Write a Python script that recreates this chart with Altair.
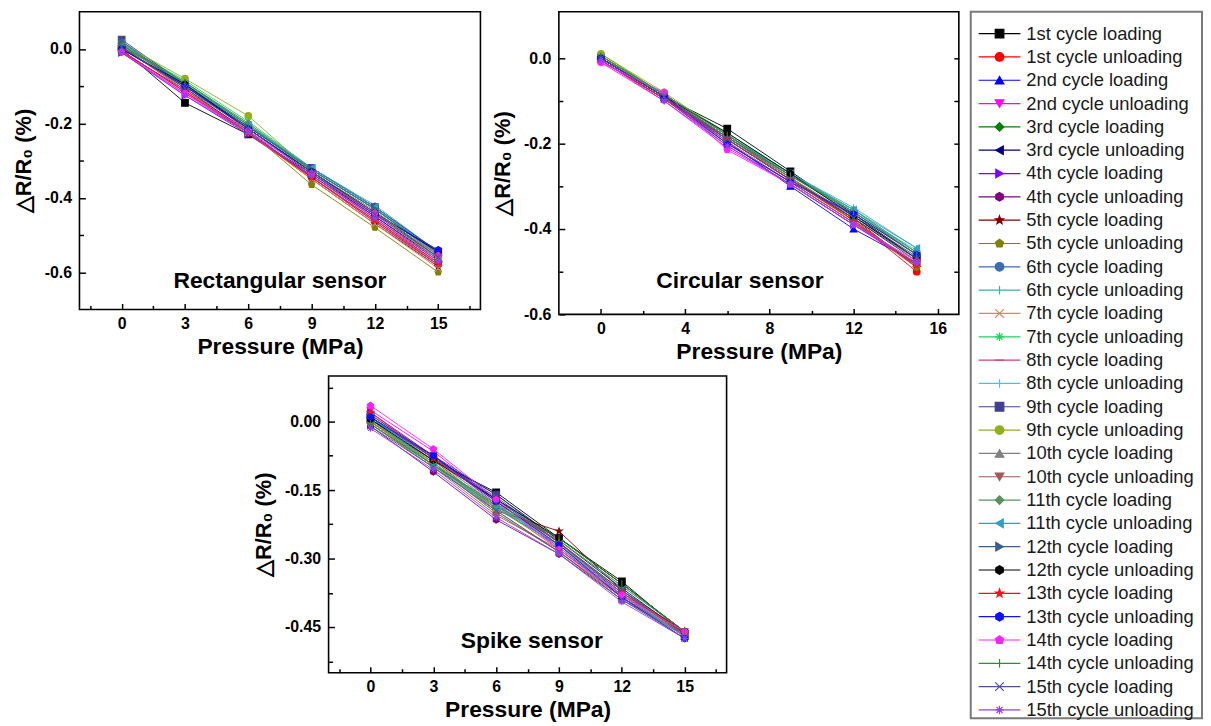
import altair as alt
import pandas as pd

pressure = [0, 3, 6, 9, 12, 15]

series_names = [
    "1st cycle loading", "1st cycle unloading", "2nd cycle loading", "2nd cycle unloading",
    "3rd cycle loading", "3rd cycle unloading", "4th cycle loading", "4th cycle unloading",
    "5th cycle loading", "5th cycle unloading", "6th cycle loading", "6th cycle unloading",
    "7th cycle loading", "7th cycle unloading", "8th cycle loading", "8th cycle unloading",
    "9th cycle loading", "9th cycle unloading", "10th cycle loading", "10th cycle unloading",
    "11th cycle loading", "11th cycle unloading", "12th cycle loading", "12th cycle unloading",
    "13th cycle loading", "13th cycle unloading", "14th cycle loading", "14th cycle unloading",
    "15th cycle loading", "15th cycle unloading",
]

series_colors = [
    "#000000", "#FF0000", "#0000FF", "#FF00FF", "#008000", "#000080", "#8000FF", "#800080",
    "#800000", "#808000", "#3A6EB0", "#3AAFAF", "#C8905A", "#20D060", "#D0407A", "#40C8D8",
    "#404090", "#90B020", "#808080", "#A05A5A", "#5A9060", "#30A0C8", "#3A6090", "#000000",
    "#FF1010", "#1010FF", "#FF20FF", "#309030", "#505090", "#9040F0",
]

HEX = "M0,-1L0.866,-0.5L0.866,0.5L0,1L-0.866,0.5L-0.866,-0.5Z"
STAR = ("M0,-1L0.235,-0.324L0.951,-0.309L0.38,0.124L0.588,0.809L0,0.4"
        "L-0.588,0.809L-0.38,0.124L-0.951,-0.309L-0.235,-0.324Z")
PENT = "M0,-1L0.951,-0.309L0.588,0.809L-0.588,0.809L-0.951,-0.309Z"
VBAR = "M0,-1L0,1"
HBAR = "M-1,0L1,0"
XMARK = "M-1,-1L1,1M-1,1L1,-1"
ASTER = "M-1,0L1,0M0,-1L0,1M-0.7,-0.7L0.7,0.7M-0.7,0.7L0.7,-0.7"

series_shapes = [
    "square", "circle", "triangle-up", "triangle-down", "diamond", "triangle-left",
    "triangle-right", HEX, STAR, PENT, "circle", VBAR, XMARK, ASTER, HBAR, VBAR,
    "square", "circle", "triangle-up", "triangle-down", "diamond", "triangle-left",
    "triangle-right", HEX, STAR, HEX, PENT, VBAR, XMARK, ASTER,
]

# ΔR/R0 (%) at 0, 3, 6, 9, 12, 15 MPa, one row per series
rect_values = [
    [0.000, -0.145, -0.230, -0.335, -0.450, -0.565],
    [-0.005, -0.115, -0.225, -0.340, -0.455, -0.575],
    [0.010, -0.095, -0.210, -0.320, -0.425, -0.545],
    [-0.010, -0.120, -0.225, -0.345, -0.460, -0.580],
    [0.005, -0.090, -0.205, -0.325, -0.430, -0.555],
    [0.000, -0.100, -0.215, -0.330, -0.440, -0.560],
    [-0.010, -0.125, -0.230, -0.340, -0.450, -0.570],
    [-0.008, -0.110, -0.220, -0.345, -0.465, -0.580],
    [0.005, -0.105, -0.225, -0.350, -0.470, -0.585],
    [0.010, -0.095, -0.220, -0.365, -0.480, -0.600],
    [0.015, -0.100, -0.210, -0.325, -0.430, -0.550],
    [0.020, -0.090, -0.200, -0.320, -0.420, -0.545],
    [0.005, -0.110, -0.225, -0.350, -0.470, -0.590],
    [0.010, -0.085, -0.195, -0.320, -0.425, -0.550],
    [-0.005, -0.115, -0.230, -0.345, -0.465, -0.585],
    [0.015, -0.095, -0.205, -0.325, -0.430, -0.555],
    [0.025, -0.095, -0.210, -0.320, -0.425, -0.545],
    [0.015, -0.080, -0.180, -0.330, -0.440, -0.565],
    [0.010, -0.100, -0.215, -0.335, -0.445, -0.565],
    [0.005, -0.110, -0.225, -0.345, -0.460, -0.580],
    [0.010, -0.090, -0.200, -0.325, -0.430, -0.555],
    [0.015, -0.095, -0.205, -0.320, -0.425, -0.550],
    [0.020, -0.100, -0.210, -0.325, -0.430, -0.550],
    [0.000, -0.095, -0.215, -0.330, -0.440, -0.545],
    [-0.005, -0.115, -0.225, -0.345, -0.460, -0.575],
    [0.000, -0.100, -0.215, -0.330, -0.445, -0.540],
    [-0.008, -0.120, -0.220, -0.335, -0.440, -0.555],
    [0.010, -0.090, -0.205, -0.330, -0.435, -0.560],
    [0.005, -0.105, -0.215, -0.335, -0.445, -0.560],
    [-0.010, -0.125, -0.225, -0.340, -0.455, -0.570],
]

circ_values = [
    [0.000, -0.090, -0.165, -0.265, -0.365, -0.470],
    [-0.005, -0.095, -0.185, -0.280, -0.380, -0.500],
    [0.000, -0.090, -0.195, -0.300, -0.400, -0.480],
    [-0.010, -0.100, -0.210, -0.295, -0.390, -0.485],
    [0.005, -0.085, -0.180, -0.275, -0.360, -0.460],
    [0.000, -0.090, -0.190, -0.285, -0.375, -0.475],
    [-0.005, -0.095, -0.205, -0.295, -0.390, -0.480],
    [-0.005, -0.095, -0.200, -0.290, -0.385, -0.485],
    [0.000, -0.090, -0.185, -0.280, -0.375, -0.490],
    [0.010, -0.085, -0.185, -0.285, -0.380, -0.490],
    [0.005, -0.085, -0.180, -0.270, -0.360, -0.455],
    [0.000, -0.085, -0.180, -0.270, -0.350, -0.445],
    [0.000, -0.090, -0.190, -0.285, -0.380, -0.485],
    [0.005, -0.085, -0.175, -0.270, -0.355, -0.455],
    [-0.005, -0.095, -0.200, -0.290, -0.385, -0.490],
    [0.000, -0.085, -0.180, -0.275, -0.360, -0.450],
    [0.000, -0.090, -0.190, -0.285, -0.370, -0.465],
    [0.010, -0.080, -0.180, -0.280, -0.370, -0.475],
    [0.005, -0.090, -0.185, -0.280, -0.370, -0.470],
    [0.000, -0.095, -0.195, -0.290, -0.385, -0.480],
    [0.005, -0.085, -0.180, -0.275, -0.355, -0.455],
    [0.000, -0.085, -0.180, -0.270, -0.355, -0.445],
    [0.000, -0.090, -0.185, -0.275, -0.365, -0.460],
    [0.000, -0.090, -0.175, -0.270, -0.370, -0.470],
    [-0.005, -0.095, -0.190, -0.285, -0.380, -0.485],
    [0.000, -0.090, -0.200, -0.290, -0.365, -0.460],
    [-0.010, -0.080, -0.215, -0.295, -0.390, -0.475],
    [0.005, -0.085, -0.180, -0.275, -0.360, -0.460],
    [0.000, -0.090, -0.190, -0.285, -0.375, -0.470],
    [-0.005, -0.100, -0.205, -0.295, -0.390, -0.480],
]

spike_values = [
    [0.010, -0.085, -0.155, -0.255, -0.350, -0.465],
    [0.000, -0.085, -0.190, -0.270, -0.375, -0.460],
    [0.005, -0.075, -0.170, -0.265, -0.380, -0.470],
    [0.025, -0.065, -0.175, -0.270, -0.385, -0.465],
    [-0.005, -0.095, -0.185, -0.255, -0.355, -0.460],
    [0.010, -0.080, -0.160, -0.260, -0.365, -0.465],
    [0.020, -0.075, -0.180, -0.275, -0.385, -0.470],
    [-0.010, -0.110, -0.215, -0.290, -0.390, -0.465],
    [0.005, -0.090, -0.195, -0.240, -0.370, -0.460],
    [0.000, -0.095, -0.200, -0.285, -0.385, -0.470],
    [0.010, -0.080, -0.170, -0.265, -0.375, -0.470],
    [0.005, -0.090, -0.185, -0.270, -0.370, -0.465],
    [0.000, -0.095, -0.195, -0.285, -0.390, -0.470],
    [-0.005, -0.100, -0.190, -0.260, -0.360, -0.460],
    [0.015, -0.080, -0.185, -0.280, -0.385, -0.470],
    [0.010, -0.085, -0.180, -0.270, -0.375, -0.470],
    [0.015, -0.075, -0.160, -0.265, -0.370, -0.470],
    [0.000, -0.090, -0.190, -0.275, -0.380, -0.465],
    [0.005, -0.095, -0.200, -0.285, -0.385, -0.470],
    [-0.005, -0.100, -0.205, -0.280, -0.380, -0.460],
    [0.000, -0.095, -0.185, -0.260, -0.360, -0.460],
    [0.010, -0.095, -0.190, -0.270, -0.380, -0.470],
    [0.010, -0.080, -0.165, -0.265, -0.370, -0.465],
    [0.005, -0.085, -0.170, -0.255, -0.355, -0.460],
    [0.020, -0.080, -0.175, -0.265, -0.375, -0.465],
    [0.010, -0.075, -0.175, -0.270, -0.385, -0.475],
    [0.035, -0.060, -0.170, -0.280, -0.380, -0.460],
    [-0.005, -0.095, -0.180, -0.255, -0.355, -0.460],
    [-0.010, -0.100, -0.195, -0.285, -0.390, -0.475],
    [-0.015, -0.105, -0.210, -0.290, -0.395, -0.475],
]

panel_labels = ["Rectangular sensor", "Circular sensor", "Spike sensor"]
label_x = [7.5, 6.6, 7.7]
label_y = [-0.625, -0.523, -0.48]

FONT = "Liberation Sans"
color_scale = alt.Scale(domain=series_names, range=series_colors)
shape_scale = alt.Scale(domain=series_names, range=series_shapes)


def num_label(fmt):
    return "replace(format(datum.value, '" + fmt + "'), '\u2212', '-')"


def panel(values, label_idx, x_major, x_minor, y_major, y_minor, y_fmt,
          y_domain, width, height, right_ticks=None):
    rows = []
    for si, name in enumerate(series_names):
        for xi, p in enumerate(pressure):
            rows.append({"series": name, "x": p, "y": values[si][xi]})
    df = pd.DataFrame(rows)
    lab = pd.DataFrame({"x": [label_x[label_idx]], "y": [label_y[label_idx]],
                        "text": [panel_labels[label_idx]]})
    xs = alt.Scale(domain=[-2, 17], nice=False, zero=False)
    ys = alt.Scale(domain=y_domain, nice=False, zero=False)
    common = dict(domain=False, grid=False, tickColor="black", tickWidth=1.5,
                  labelFlush=False, labelOverlap=False, zindex=1)
    x_main = alt.Axis(orient="bottom", values=x_major, offset=-6, tickSize=6,
                      labelFont=FONT, labelFontSize=16, labelFontWeight="bold",
                      labelColor="black", labelPadding=6,
                      title="Pressure (MPa)", titleFont=FONT, titleFontSize=23,
                      titleFontWeight="bold", titleColor="black", titlePadding=4,
                      **common)
    y_main = alt.Axis(orient="left", values=y_major, offset=-6, tickSize=6,
                      labelExpr=num_label(y_fmt),
                      labelFont=FONT, labelFontSize=16, labelFontWeight="bold",
                      labelColor="black", labelPadding=8,
                      title="\u25b3R/R\u2080 (%)", titleFont=FONT, titleFontSize=22,
                      titleFontWeight="bold", titleColor="black", titlePadding=9,
                      **common)
    x_min = alt.Axis(orient="bottom", values=x_minor, offset=-4, tickSize=4,
                     labels=False, title=None, **common)
    y_min = alt.Axis(orient="left", values=y_minor, offset=-4, tickSize=4,
                     labels=False, title=None, **common)

    base = alt.Chart(df)
    lines = base.mark_line(strokeWidth=1, opacity=0.9).encode(
        x=alt.X("x:Q", scale=xs, axis=x_main),
        y=alt.Y("y:Q", scale=ys, axis=y_main),
        color=alt.Color("series:N", scale=color_scale, legend=None),
    )
    points = base.mark_point(filled=True, size=45, opacity=1, strokeWidth=1.1).encode(
        x=alt.X("x:Q", scale=xs, axis=x_min),
        y=alt.Y("y:Q", scale=ys, axis=y_min),
        color=alt.Color("series:N", scale=color_scale, legend=None),
        stroke=alt.Stroke("series:N", scale=color_scale, legend=None),
        shape=alt.Shape("series:N", scale=shape_scale, legend=None),
    )
    if right_ticks is not None:
        y_right = alt.Axis(orient="right", values=right_ticks, offset=-5, tickSize=5,
                           labels=False, title=None, **common)
    else:
        y_right = None
    text = alt.Chart(lab).mark_text(
        font=FONT, fontSize=23, fontWeight="bold", color="black",
        align="center", baseline="middle",
    ).encode(
        x=alt.X("x:Q", scale=xs, axis=None),
        y=alt.Y("y:Q", scale=ys, axis=y_right),
        text="text:N",
    )
    return alt.layer(lines, points, text).resolve_axis(
        x="independent", y="independent"
    ).properties(width=width, height=height)


rect = panel(rect_values, 0, [0, 3, 6, 9, 12, 15],
             [-1.5, 1.5, 4.5, 7.5, 10.5, 13.5, 16.5],
             [0.0, -0.2, -0.4, -0.6], [-0.1, -0.3, -0.5], ".1f",
             [-0.7, 0.1], 404, 300)
circ = panel(circ_values, 1, [0, 4, 8, 12, 16], [2, 6, 10, 14],
             [0.0, -0.2, -0.4, -0.6], [-0.1, -0.3, -0.5], ".1f",
             [-0.6, 0.109], 403, 305,
             right_ticks=[0.0, -0.1, -0.2, -0.3, -0.4, -0.5])
spike = panel(spike_values, 2, [0, 3, 6, 9, 12, 15],
              [-1.5, 1.5, 4.5, 7.5, 10.5, 13.5, 16.5],
              [0.0, -0.15, -0.30, -0.45], [0.075, -0.075, -0.225, -0.375, -0.525], ".2f",
              [-0.55, 0.1], 401, 299)

spacer = alt.Chart(pd.DataFrame({"a": [0]})).mark_point(opacity=0).encode(
    x=alt.X("a:Q", axis=None), y=alt.Y("a:Q", axis=None)
).properties(width=173, height=10,
             view=alt.ViewBackground(strokeOpacity=0))

# legend panel
leg_df = pd.DataFrame({"series": series_names, "idx": list(range(len(series_names)))})
leg_y = alt.Scale(domain=[29.36, -0.94], nice=False, zero=False)
leg_base = alt.Chart(leg_df)
leg_rule = leg_base.mark_rule(strokeWidth=1.2).encode(
    x=alt.value(8), x2=alt.value(50),
    y=alt.Y("idx:Q", scale=leg_y, axis=None),
    color=alt.Color("series:N", scale=color_scale, legend=None),
)
leg_pts = leg_base.mark_point(filled=True, size=75, opacity=1, strokeWidth=1.2).encode(
    x=alt.value(29),
    y=alt.Y("idx:Q", scale=leg_y, axis=None),
    color=alt.Color("series:N", scale=color_scale, legend=None),
    stroke=alt.Stroke("series:N", scale=color_scale, legend=None),
    shape=alt.Shape("series:N", scale=shape_scale, legend=None),
)
leg_txt = leg_base.mark_text(
    font=FONT, fontSize=18.5, color="#1a1a1a", align="left", baseline="middle"
).encode(
    x=alt.value(56),
    y=alt.Y("idx:Q", scale=leg_y, axis=None),
    text="series:N",
)
legend = alt.layer(leg_rule, leg_pts, leg_txt).properties(
    width=233, height=712,
    view=alt.ViewBackground(stroke="#7a7a7a", strokeWidth=2),
)

top_row = alt.hconcat(rect, circ, spacing=9).resolve_scale(x="independent", y="independent")
bottom_row = alt.hconcat(spacer, spike, spacing=0).resolve_scale(x="independent", y="independent")
left_block = alt.vconcat(top_row, bottom_row, spacing=11).resolve_scale(
    x="independent", y="independent")
chart = alt.hconcat(left_block, legend, spacing=9).resolve_scale(
    x="independent", y="independent"
).properties(
    padding={"left": 3, "top": 0, "right": 0, "bottom": 0},
    background="white",
).configure_view(stroke="black", strokeWidth=1.6)

chart.save("out.html", embed_options={"renderer": "svg", "actions": False})
